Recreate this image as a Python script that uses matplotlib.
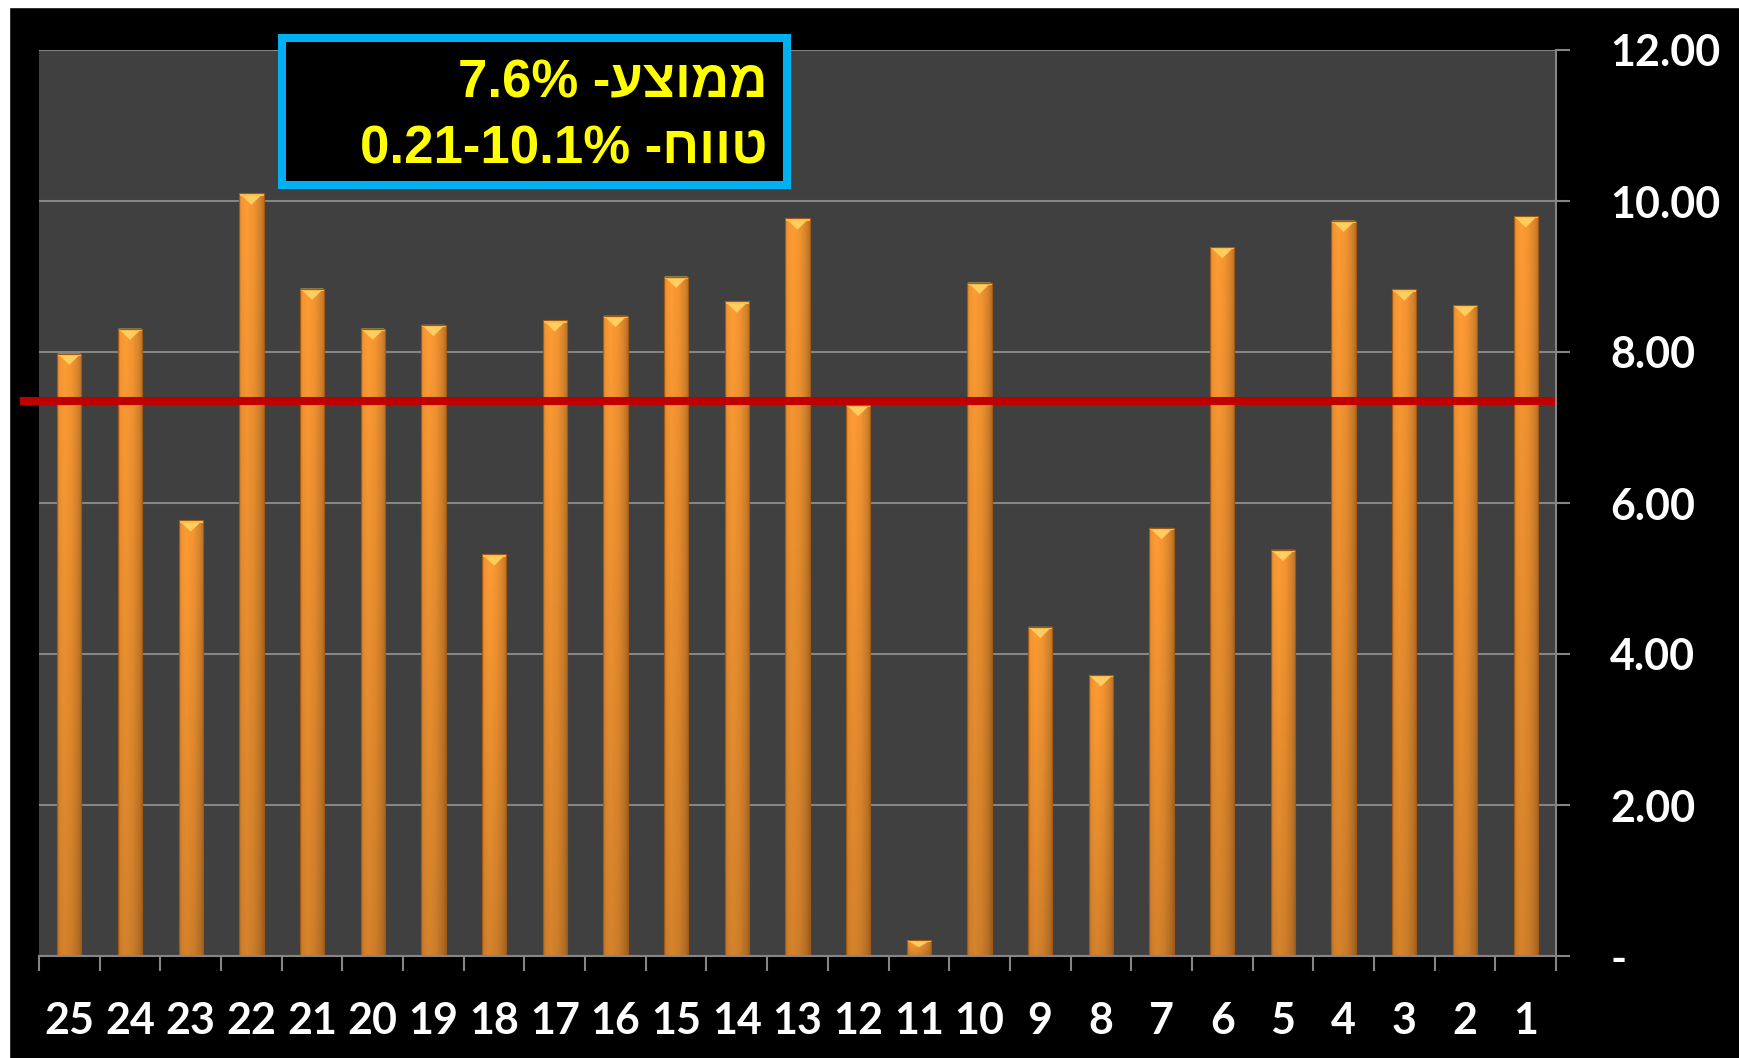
import numpy as np
import matplotlib.pyplot as plt
from matplotlib.patches import Rectangle, Polygon
from matplotlib.colors import to_rgb

# ---------------- data ----------------
labels = [str(n) for n in range(25, 0, -1)]
values = [7.98, 8.31, 5.77, 10.1, 8.84, 8.31, 8.36, 5.32, 8.42, 8.48,
          9.00, 8.67, 9.77, 7.30, 0.21, 8.92, 4.36, 3.72, 5.67, 9.39,
          5.38, 9.74, 8.83, 8.62, 9.80]
avg_line = 7.35
yticks = [0, 2, 4, 6, 8, 10, 12]
ytick_labels = ["-", "2.00", "4.00", "6.00", "8.00", "10.00", "12.00"]
# hebrew words reversed for visual (RTL) order, matplotlib has no bidi
box_lines = ["7.6% -" + "ממוצע"[::-1], "0.21-10.1% -" + "טווח"[::-1]]

W, H = 1739, 1058
fig = plt.figure(figsize=(W / 100, H / 100), dpi=100, facecolor="black")

# white strips on top/left edge of the screenshot
fig.patches.append(Rectangle((0, 1 - 7 / H), 1, 7 / H, transform=fig.transFigure,
                             color="white", zorder=-1))
fig.patches.append(Rectangle((0, 0), 9 / W, 1, transform=fig.transFigure,
                             color="white", zorder=-1))

ax = fig.add_axes([39 / W, 102 / H, 1517 / W, 906 / H])
ax.set_facecolor("#404040")
x = np.arange(len(values))

grid_c = "#858585"
ax.yaxis.grid(True, color=grid_c, lw=1.5)
ax.set_axisbelow(True)
for s in ("top", "left"):
    ax.spines[s].set_visible(False)
for s in ("right", "bottom"):
    ax.spines[s].set_color(grid_c)
    ax.spines[s].set_linewidth(1.5)

# ---------------- bars ----------------
bars = ax.bar(x, values, width=0.4, color="#F28A2A", edgecolor="#9A5512",
              lw=0.7, zorder=2)

n = 64
hx = np.linspace(0, 1, n)
prof = np.interp(hx, [0, 0.07, 0.3, 0.6, 0.85, 1],
                 [0.74, 0.95, 1.0, 0.95, 0.84, 0.72])
vy = np.linspace(0, 1, n)
vert = 0.84 + 0.16 * vy
base = np.array(to_rgb("#FF9C34"))
shade = np.clip(base[None, None, :] * (prof[None, :, None] * vert[:, None, None]), 0, 1)

for b in bars:
    x0, w, h = b.get_x(), b.get_width(), b.get_height()
    im = ax.imshow(shade, extent=[x0, x0 + w, 0, h], origin="lower",
                   aspect="auto", zorder=2.1, interpolation="bilinear")
    im.set_clip_path(b)
    d = min(0.15, h * 0.45)
    ax.add_patch(Polygon([(x0 + 0.02 * w, h), (x0 + 0.98 * w, h), (x0 + w / 2, h - d)],
                         closed=True, color="#FFD565", alpha=0.9, lw=0, zorder=2.2))
    ax.add_patch(Polygon([(x0, h), (x0 + w, h), (x0 + w, h - 0.03), (x0, h - 0.03)],
                         closed=True, color="#FFC050", lw=0, zorder=2.3))
    ax.add_patch(Rectangle((x0, 0), w, h, fill=False, ec="#A05A16", lw=0.8, zorder=2.4))

ax.set_xlim(-0.5, len(values) - 0.5)
ax.set_ylim(0, 12)

# average line, sticks out a bit left of the plot area
ax.axhline(avg_line, xmin=-0.0099, xmax=0.9967, color="#C00000", lw=5.8,
           clip_on=False, zorder=5)

# ---------------- ticks ----------------
ax.yaxis.tick_right()
ax.set_yticks(yticks)
ax.set_yticklabels(ytick_labels)
ax.tick_params(axis="y", length=10, width=1.5, color=grid_c, pad=29,
               labelsize=31, labelcolor="white")
for t in ax.get_yticklabels():
    t.set_fontfamily("Lato")
    t.set_fontweight("bold")

ax.set_xticks(x)
ax.set_xticklabels(labels)
ax.set_xticks(np.arange(-0.5, len(values)), minor=True)
ax.tick_params(axis="x", which="major", length=0, pad=32.5, labelsize=31,
               labelcolor="white")
ax.tick_params(axis="x", which="minor", length=11, width=1.5, color=grid_c)
for t in ax.get_xticklabels():
    t.set_fontfamily("Lato")
    t.set_fontweight("bold")

# ---------------- info box ----------------
fig.patches.append(Rectangle((281.5 / W, 1 - 185 / H), 505.5 / W, 147 / H,
                             transform=fig.transFigure, fc="black",
                             ec="#00B0F0", lw=5.8, zorder=6))
for txt, yy in zip(box_lines, (98, 164)):
    fig.text(767 / W, 1 - yy / H, txt, ha="right", va="baseline", color="#FFFF00",
             fontsize=38, fontweight="bold",
             family=["Liberation Sans", "DejaVu Sans"], zorder=7)

fig.savefig("out.png", dpi=100, facecolor="black")
